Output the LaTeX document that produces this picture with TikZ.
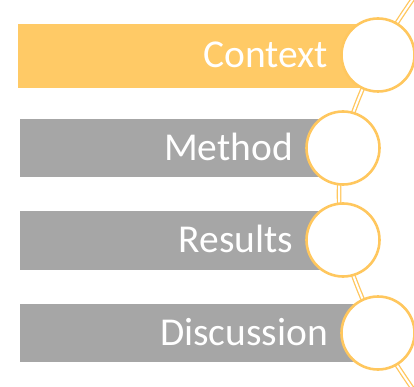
\documentclass[tikz,border=0pt]{standalone}
\usepackage{fontspec}
\setmainfont{Carlito}
\usetikzlibrary{positioning}

\definecolor{gold}{HTML}{FFCA66}
\definecolor{ring}{HTML}{FFC75E}
\definecolor{slate}{HTML}{A6A6A6}

\begin{document}
\begin{tikzpicture}[x=1pt, y=-1pt,
    tab/.style={rectangle, inner sep=0, anchor=west},
    dot/.style={draw=ring, fill=white, circle, line width=2.6pt, inner sep=0, minimum size=73pt},
    link/.style={draw=ring, line width=1.3pt, double=white, double distance=2pt},
    lbl/.style={text=white, inner sep=0, text height=25.5pt, text depth=0pt, font=\fontsize{39.5}{41}\selectfont}]
    \useasboundingbox (0,0) rectangle (414,387);

    % bars behind the circles
    \node[tab, fill=gold, minimum width=360pt, minimum height=64pt] (ctxbar) at (18,56) {};
    \node[tab, fill=slate, minimum width=323pt, minimum height=58pt] (metbar) at (20,148) {};
    \node[tab, fill=slate, minimum width=323pt, minimum height=59pt] (resbar) at (20,240.5) {};
    \node[tab, fill=slate, minimum width=358pt, minimum height=58pt] (disbar) at (20,333) {};

    \coordinate (top) at (422,-14);
    \coordinate (bot) at (422,402);

    % the string
    \draw[link] plot[smooth, tension=0.55] coordinates {(top) (378,55) (343,148) (343,240) (378,333) (bot)};

    \node[dot] (ctx) at (378,55) {};
    \node[dot] (met) at (343,148) {};
    \node[dot] (res) at (343,240) {};
    \node[dot] (dis) at (378,333) {};

    \node[lbl, left=12pt of ctx] (ctxlbl) {Context};
    \node[lbl, left=12pt of met] (metlbl) {Method};
    \node[lbl, left=12pt of res] (reslbl) {Results};
    \node[lbl, left=12pt of dis] (dislbl) {Discussion};
\end{tikzpicture}
\end{document}
